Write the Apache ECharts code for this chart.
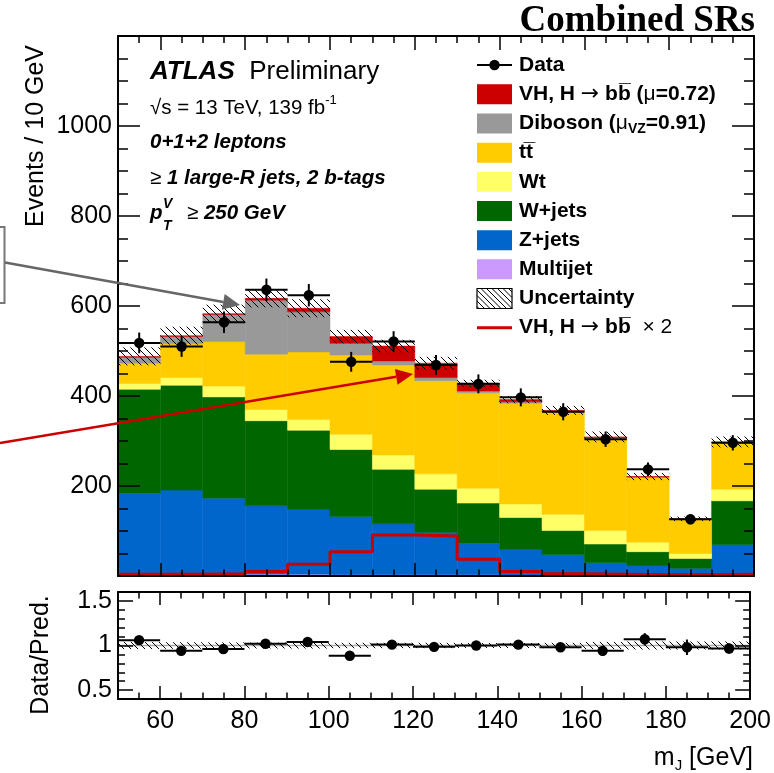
<!DOCTYPE html>
<html><head><meta charset="utf-8">
<script src="https://cdn.jsdelivr.net/npm/echarts@6/dist/echarts.min.js"></script>
<style>html,body{margin:0;padding:0;background:#fff}#c{width:774px;height:773px}</style>
</head><body><div id="c"></div>
<script>
// ---------------- data ----------------
const binEdges = [50,60,70,80,90,100,110,120,130,140,150,160,170,180,190,200];
const multijet = [5,5,4,4,4,3,3,3,3,2,2,2,1,1,1];
const zjets    = [179,186,169,152,145,129,113,94,70,57,46,28,22,16,69];
const wjets    = [231,233,225,189,175,149,121,96,89,71,53,41,31,22,97];
const wt       = [13,17,24,25,24,34,32,34,33,30,36,30,21,11,26];
const ttbar    = [45,75,99,123,150,176,200,207,212,224,227,205,144,76,102];
const diboson  = [13,16,60,120,89,26,9,7,4,3,2,2,1,1,2];
const vhStack  = [2,2,2,4,8,15,33,32,17,5,2,1,1,0,1];
const vhLine   = [4,4,5,10,26,54,91,89,37,10,5,4,3,3,4];
const dataVals = [518,510,564,636,624,476,521,469,427,397,365,304,237,126,296];
const dataErr  = [23,23,24,25,25,22,23,22,21,20,19,17,15,11,17];
const bkgUnc   = [20,20,20,20,20,15,14,14,8,8,10,12,8,5,12];
const ratioVals = [1.06,0.94,0.96,1.02,1.04,0.885,1.01,0.985,1.0,1.01,0.98,0.94,1.07,0.98,0.966];
const ratioErr  = [0.045,0.045,0.043,0.04,0.04,0.045,0.045,0.047,0.05,0.05,0.052,0.056,0.068,0.087,0.057];
const ratioUnc  = [0.04,0.037,0.035,0.033,0.034,0.03,0.03,0.03,0.028,0.028,0.03,0.04,0.045,0.045,0.045];
const xTickLabels = [60,80,100,120,140,160,180,200];
const yTickLabels = [200,400,600,800,1000];
const ratioTickLabels = [0.5,1,1.5];

// ---------------- helpers ----------------
const FONT = '"Liberation Sans", Arial, Helvetica, sans-serif';
const components = [
  {name:'Multijet', vals:multijet, color:'#cc99ff'},
  {name:'Z+jets',   vals:zjets,    color:'#0066cc'},
  {name:'W+jets',   vals:wjets,    color:'#006600'},
  {name:'Wt',       vals:wt,       color:'#ffff66'},
  {name:'ttbar',    vals:ttbar,    color:'#ffcc00'},
  {name:'Diboson',  vals:diboson,  color:'#999999'},
  {name:'VH',       vals:vhStack,  color:'#cc0000'}
];
const nb = binEdges.length - 1;
const cum = new Array(nb).fill(0);
const stackSeries = components.map(c => {
  const d = [];
  for (let i = 0; i < nb; i++) {
    d.push([binEdges[i], binEdges[i+1], cum[i], cum[i] + c.vals[i]]);
    cum[i] += c.vals[i];
  }
  return {
    type:'custom', name:c.name, xAxisIndex:0, yAxisIndex:1, clip:true,
    encode:{x:[0,1], y:[2,3]}, data:d,
    renderItem:(params, api) => {
      const p0 = api.coord([api.value(0), api.value(3)]);
      const p1 = api.coord([api.value(1), api.value(2)]);
      return {type:'rect', shape:{x:p0[0], y:p0[1], width:p1[0]-p0[0], height:p1[1]-p0[1]},
        style:{fill:c.color, stroke:c.color, lineWidth:0.5}};
    }
  };
});
const totals = cum.slice();

function hatchLines(x0, y0, x1, y1, s) {
  const out = [];
  const cmin = x0 - y1, cmax = x1 - y0;
  for (let k = Math.ceil(cmin / s); k * s <= cmax; k++) {
    const c = k * s;
    const xs = Math.max(x0, y0 + c), xe = Math.min(x1, y1 + c);
    if (xe > xs) out.push({type:'line', shape:{x1:xs, y1:xs - c, x2:xe, y2:xe - c},
      style:{stroke:'#000', lineWidth:1}});
  }
  return out;
}
function hatchRender(params, api) {
  const p0 = api.coord([api.value(0), api.value(3)]);
  const p1 = api.coord([api.value(1), api.value(2)]);
  return {type:'group', children:hatchLines(p0[0], p0[1], p1[0], p1[1], 7)};
}
function pointRender(params, api) {
  const lo = api.coord([api.value(0), api.value(2)]);
  const hi = api.coord([api.value(1), api.value(2)]);
  const xc = (lo[0] + hi[0]) / 2;
  const eU = api.coord([api.value(0), api.value(2) + api.value(3)]);
  const eD = api.coord([api.value(0), api.value(2) - api.value(3)]);
  const ls = {stroke:'#000', lineWidth:2};
  return {type:'group', children:[
    {type:'line', shape:{x1:lo[0], y1:lo[1], x2:hi[0], y2:hi[1]}, style:ls},
    {type:'line', shape:{x1:xc, y1:eU[1], x2:xc, y2:eD[1]}, style:ls},
    {type:'circle', shape:{cx:xc, cy:lo[1], r:5.2}, style:{fill:'#000'}}
  ]};
}

const hatchData = [], dataPts = [], ratioBand = [], ratioPts = [], vhLineData = [];
for (let i = 0; i < nb; i++) {
  hatchData.push([binEdges[i], binEdges[i+1], totals[i] - bkgUnc[i], totals[i] + bkgUnc[i]]);
  dataPts.push([binEdges[i], binEdges[i+1], dataVals[i], dataErr[i]]);
  ratioBand.push([binEdges[i], binEdges[i+1], 1 - ratioUnc[i], 1 + ratioUnc[i]]);
  ratioPts.push([binEdges[i], binEdges[i+1], ratioVals[i], ratioErr[i]]);
  vhLineData.push([binEdges[i], vhLine[i]]);
}
vhLineData.push([binEdges[nb], vhLine[nb-1]]);

// ---------------- axes ----------------
const tickLS = {color:'#000', width:1.5};
const plainFmt = v => String(v);
const xAxes = [], yAxes = [];
function addX(g, pos, majLen, minLen, labels) {
  xAxes.push({gridIndex:g, type:'value', position:pos, min:50, max:200, interval:5, z:10,
    axisLine:{show:true, onZero:false, lineStyle:{color:'#000', width:2}},
    axisTick:{show:true, inside:true, length:minLen, lineStyle:tickLS},
    axisLabel:{show:false}, splitLine:{show:false}});
  xAxes.push({gridIndex:g, type:'value', position:pos, min:50, max:200, z:10,
    axisLine:{show:false, onZero:false},
    axisTick:{show:true, inside:true, length:majLen, customValues:xTickLabels, lineStyle:tickLS},
    axisLabel:{show:labels, customValues:xTickLabels, formatter:plainFmt, fontSize:25, color:'#000', fontFamily:FONT, margin:10},
    splitLine:{show:false}});
}
addX(0, 'bottom', 13, 6.5, false);  // 0,1
addX(0, 'top', 14, 7, false);       // 2,3
addX(1, 'bottom', 13, 6.5, true);   // 4,5
addX(1, 'top', 13, 6.5, false);     // 6,7

function addY(g, pos, min, max, minInt, majVals, labVals, majLen, minLen, labels) {
  yAxes.push({gridIndex:g, type:'value', position:pos, min:min, max:max, interval:minInt, z:10,
    axisLine:{show:true, onZero:false, lineStyle:{color:'#000', width:2}},
    axisTick:{show:true, inside:true, length:minLen, lineStyle:tickLS},
    axisLabel:{show:false}, splitLine:{show:false}});
  yAxes.push({gridIndex:g, type:'value', position:pos, min:min, max:max, z:10,
    axisLine:{show:false, onZero:false},
    axisTick:{show:true, inside:true, length:majLen, customValues:majVals, lineStyle:tickLS},
    axisLabel:{show:labels, customValues:labVals, formatter:plainFmt, fontSize:25, color:'#000', fontFamily:FONT, margin:6},
    splitLine:{show:false}});
}
const mainMajor = [0,200,400,600,800,1000,1200];
addY(0, 'left', 0, 1200, 50, mainMajor, yTickLabels, 22, 10, true);     // 0,1
addY(0, 'right', 0, 1200, 50, mainMajor, yTickLabels, 22, 10, false);   // 2,3
addY(1, 'left', 0.4, 1.6, 0.1, ratioTickLabels, ratioTickLabels, 15, 7, true);   // 4,5
addY(1, 'right', 0.4, 1.6, 0.1, ratioTickLabels, ratioTickLabels, 15, 7, false); // 6,7

// ---------------- graphics (texts, legend, annotations) ----------------
const LX = 477, LW = 35, LH = 20, TX = 519;
const rows = [65, 94.3, 123.5, 152.7, 181.8, 211, 240.2, 269.3, 298.5, 327.7];
const lf = 21;
const rb = {fontSize:lf, fontWeight:'bold', fontFamily:FONT, fill:'#000', lineHeight:26};
const rn = {fontSize:lf, fontFamily:FONT, fill:'#000', lineHeight:26};
const ra = {fontSize:22, fontFamily:'"DejaVu Sans", sans-serif', fill:'#000', lineHeight:26};
const rsub = {fontSize:14, fontFamily:FONT, fontWeight:'bold', fill:'#000', lineHeight:12, verticalAlign:'bottom'};
const legendRich = {b:rb, n:rn, a:ra, sub:rsub};
function ltext(y, t) {
  return {type:'text', z:100, style:{x:TX, y:y, text:t, rich:legendRich, verticalAlign:'middle', textAlign:'left'}};
}
function box(y, color) {
  return {type:'rect', z:100, shape:{x:LX, y:y - LH/2, width:LW, height:LH}, style:{fill:color}};
}
const legendEls = [
  {type:'line', z:100, shape:{x1:LX, y1:rows[0], x2:LX+LW, y2:rows[0]}, style:{stroke:'#000', lineWidth:2}},
  {type:'circle', z:100, shape:{cx:LX+LW/2, cy:rows[0], r:5.2}, style:{fill:'#000'}},
  ltext(rows[0], '{b|Data}'),
  box(rows[1], '#cc0000'), ltext(rows[1], '{b|VH, H }{a|\u2192}{b| bb\u0305 (}{n|\u03bc}{b|=0.72)}'),
  box(rows[2], '#999999'), ltext(rows[2], '{b|Diboson (}{n|\u03bc}{sub|VZ}{b|=0.91)}'),
  box(rows[3], '#ffcc00'), ltext(rows[3], '{b|tt\u0305}'),
  box(rows[4], '#ffff66'), ltext(rows[4], '{b|Wt}'),
  box(rows[5], '#006600'), ltext(rows[5], '{b|W+jets}'),
  box(rows[6], '#0066cc'), ltext(rows[6], '{b|Z+jets}'),
  box(rows[7], '#cc99ff'), ltext(rows[7], '{b|Multijet}'),
  {type:'group', z:100, children:hatchLines(LX, rows[8]-LH/2, LX+LW, rows[8]+LH/2, 5.5).map(e => Object.assign(e, {z:100}))},
  {type:'rect', z:101, shape:{x:LX, y:rows[8]-LH/2, width:LW, height:LH}, style:{fill:'none', stroke:'#000', lineWidth:1.2}},
  ltext(rows[8], '{b|Uncertainty}'),
  {type:'line', z:100, shape:{x1:LX, y1:rows[9], x2:LX+LW, y2:rows[9]}, style:{stroke:'#cc0000', lineWidth:3}},
  ltext(rows[9], '{b|VH, H }{a|\u2192}{b| bb\u0305 }{n| \u00d7 2}')
];

const tf = 20.5;
const atlasEls = [
  {type:'text', z:100, style:{x:150, y:72, verticalAlign:'middle', text:'{a|ATLAS}{p|  Preliminary}',
    rich:{a:{fontSize:26, fontWeight:'bold', fontStyle:'italic', fontFamily:FONT, fill:'#000'},
          p:{fontSize:26, fontFamily:FONT, fill:'#000'}}}},
  {type:'text', z:100, style:{x:150, y:108, verticalAlign:'middle', text:'{n|\u221as = 13 TeV, 139 fb}{s|-1}',
    rich:{n:{fontSize:tf, fontFamily:FONT, fill:'#000', lineHeight:28},
          s:{fontSize:13, fontFamily:FONT, fill:'#000', lineHeight:12, verticalAlign:'top'}}}},
  {type:'text', z:100, style:{x:150, y:142, verticalAlign:'middle', text:'0+1+2 leptons',
    font:'italic bold ' + tf + 'px ' + FONT, fill:'#000'}},
  {type:'text', z:100, style:{x:150, y:178, verticalAlign:'middle', text:'{n|\u2265 }{b|1 large-R jets, 2 b-tags}',
    rich:{n:{fontSize:tf, fontFamily:FONT, fill:'#000'},
          b:{fontSize:tf, fontWeight:'bold', fontStyle:'italic', fontFamily:FONT, fill:'#000'}}}},
  {type:'text', z:100, style:{x:150, y:213, verticalAlign:'middle', text:'p',
    font:'italic bold ' + tf + 'px ' + FONT, fill:'#000'}},
  {type:'text', z:100, style:{x:163, y:204, verticalAlign:'middle', text:'V',
    font:'italic bold 14px ' + FONT, fill:'#000'}},
  {type:'text', z:100, style:{x:163, y:226, verticalAlign:'middle', text:'T',
    font:'italic bold 14px ' + FONT, fill:'#000'}},
  {type:'text', z:100, style:{x:187, y:213, verticalAlign:'middle', text:'{n|\u2265 }{b|250 GeV}',
    rich:{n:{fontSize:tf, fontFamily:FONT, fill:'#000'},
          b:{fontSize:tf, fontWeight:'bold', fontStyle:'italic', fontFamily:FONT, fill:'#000'}}}}
];

const titleEls = [
  {type:'text', z:100, style:{x:755, y:21, text:'Combined SRs', textAlign:'right', verticalAlign:'middle',
    font:'bold 37px "Liberation Serif", "Times New Roman", serif', fill:'#000'}},
  {type:'text', z:100, x:36, y:136, rotation:Math.PI/2, style:{x:0, y:0, text:'Events / 10 GeV', textAlign:'center',
    verticalAlign:'middle', font:'25px ' + FONT, fill:'#000'}},
  {type:'text', z:100, x:41, y:655, rotation:Math.PI/2, style:{x:0, y:0, text:'Data/Pred.', textAlign:'center',
    verticalAlign:'middle', font:'25px ' + FONT, fill:'#000'}},
  {type:'text', z:100, style:{x:753, y:758, textAlign:'right', verticalAlign:'middle', text:'{n|m}{s|J}{n| [GeV]}',
    rich:{n:{fontSize:25, fontFamily:FONT, fill:'#000', lineHeight:30},
          s:{fontSize:15, fontFamily:FONT, fill:'#000', lineHeight:14, verticalAlign:'bottom'}}}}
];

function arrow(x0, y0, x1, y1, color, w, L, H) {
  const dx = x1 - x0, dy = y1 - y0, len = Math.hypot(dx, dy);
  const ux = dx/len, uy = dy/len, nx = -uy, ny = ux;
  const bx = x1 - L*ux, by = y1 - L*uy;
  return [
    {type:'line', z:100, shape:{x1:x0, y1:y0, x2:bx, y2:by}, style:{stroke:color, lineWidth:w}},
    {type:'polygon', z:100, shape:{points:[[x1,y1],[bx+H*nx,by+H*ny],[bx-H*nx,by-H*ny]]}, style:{fill:color}}
  ];
}
const annoEls = [
  {type:'rect', z:100, shape:{x:-10, y:227, width:14.5, height:76}, style:{fill:'none', stroke:'#777', lineWidth:2}},
  ...arrow(5, 262.5, 240, 305, '#666', 2.5, 17, 8),
  ...arrow(0, 443, 413, 374, '#cc0000', 2.5, 17, 8)
];

// ---------------- option ----------------
const option = {
  backgroundColor:'#fff',
  animation:false,
  grid:[
    {left:118, top:36, width:636, height:540},
    {left:118, top:592, width:636, height:107}
  ],
  xAxis:xAxes,
  yAxis:yAxes,
  series:[
    ...stackSeries,
    {type:'custom', name:'Uncertainty', xAxisIndex:0, yAxisIndex:1, clip:true, z:3,
      encode:{x:[0,1], y:[2,3]}, data:hatchData, renderItem:hatchRender},
    {type:'line', name:'VH x2', xAxisIndex:0, yAxisIndex:1, step:'end', symbol:'none', z:4,
      data:vhLineData, lineStyle:{color:'#cc0000', width:3}},
    {type:'custom', name:'Data', xAxisIndex:0, yAxisIndex:1, clip:false, z:5,
      encode:{x:[0,1], y:2}, data:dataPts, renderItem:pointRender},
    {type:'line', name:'ratio1', xAxisIndex:4, yAxisIndex:5, symbol:'none', z:2,
      data:[[50,1],[200,1]], lineStyle:{color:'#aaa', width:1.5}},
    {type:'custom', name:'RatioUnc', xAxisIndex:4, yAxisIndex:5, clip:true, z:3,
      encode:{x:[0,1], y:[2,3]}, data:ratioBand, renderItem:hatchRender},
    {type:'custom', name:'Ratio', xAxisIndex:4, yAxisIndex:5, clip:true, z:5,
      encode:{x:[0,1], y:2}, data:ratioPts, renderItem:pointRender}
  ],
  graphic:[...annoEls, ...legendEls, ...atlasEls, ...titleEls]
};
const chart = echarts.init(document.getElementById('c'), null, {renderer:'canvas'});
chart.setOption(option);
</script>
</body></html>
